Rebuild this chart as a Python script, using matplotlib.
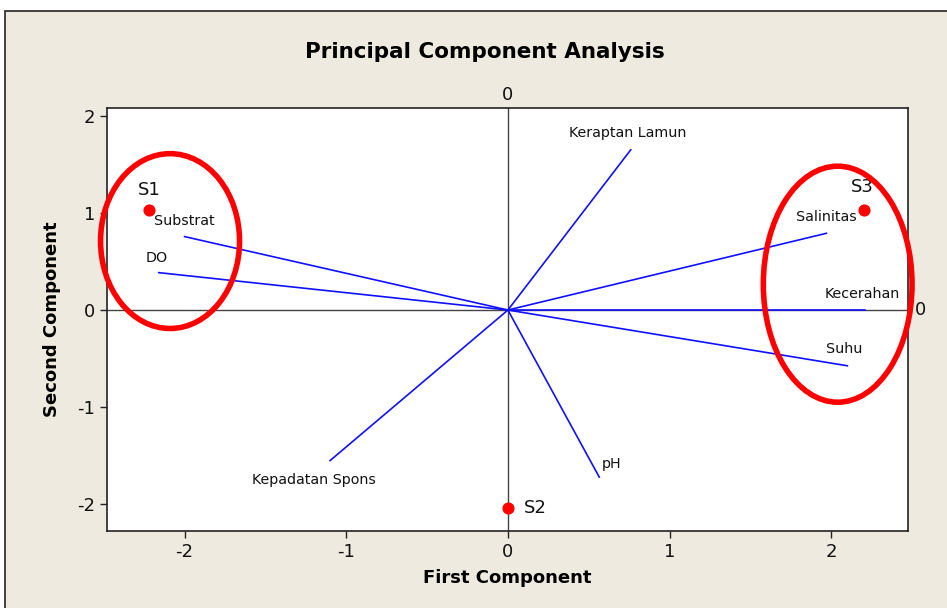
import matplotlib
matplotlib.use("Agg")
import matplotlib.pyplot as plt
from matplotlib.patches import Ellipse, Rectangle

# ------------ Data ------------
variables = ["Keraptan Lamun", "Salinitas", "Kecerahan", "Suhu", "pH",
             "Kepadatan Spons", "Substrat", "DO"]
load_x = [0.76, 1.97, 2.21, 2.10, 0.565, -1.10, -2.00, -2.16]
load_y = [1.65, 0.79, 0.00, -0.574, -1.72, -1.55, 0.756, 0.385]
label_x = [0.38, 1.78, 1.96, 1.97, 0.58, -1.58, -2.19, -2.24]
label_y = [1.82, 0.955, 0.165, -0.405, -1.59, -1.75, 0.92, 0.54]

stations = ["S1", "S2", "S3"]
score_x = [-2.22, 0.0, 2.20]
score_y = [1.03, -2.04, 1.03]
station_lx = [-2.29, 0.10, 2.12]
station_ly = [1.24, -2.04, 1.27]

# ------------ Styles ------------
BG = "#eeeae0"
W, H = 947, 608
plt.rcParams["axes.unicode_minus"] = False

fig = plt.figure(figsize=(W / 100, H / 100), dpi=100)
fig.patch.set_facecolor("white")
fig.patches.append(Rectangle((5 / W, -0.02), 1.02, (H - 11) / H + 0.02,
                             transform=fig.transFigure, facecolor=BG,
                             edgecolor="#222222", linewidth=1.2, zorder=-10))

ax = fig.add_axes([107 / W, 1 - 531 / H, (908 - 107) / W, (531 - 108) / H])
ax.set_zorder(1)
ax.set_facecolor("white")
ax.set_xlim(-2.48, 2.475)
ax.set_ylim(-2.275, 2.08)

# reference lines
ax.axvline(0, color="#444444", linewidth=1.0, zorder=1)
ax.axhline(0, color="#444444", linewidth=1.0, zorder=1)

# loading vectors
for name, x, y, lx, ly in zip(variables, load_x, load_y, label_x, label_y):
    ax.plot([0, x], [0, y], color="#1010ff", linewidth=1.2, zorder=2)
    ax.text(lx, ly, name, fontsize=10.3, ha="left", va="center", color="#111111")

# scores
ax.scatter(score_x, score_y, s=60, color="#ff0000", zorder=4, clip_on=False)
for name, lx, ly in zip(stations, station_lx, station_ly):
    ax.text(lx, ly, name, fontsize=13, ha="left", va="center", color="#111111")

# highlight ellipses
ax.add_patch(Ellipse((-2.09, 0.71), 0.86, 1.80, fill=False, edgecolor="#ff0000",
                     linewidth=4, clip_on=False, zorder=5))
ax.add_patch(Ellipse((2.04, 0.266), 0.92, 2.43, fill=False, edgecolor="#ff0000",
                     linewidth=4, clip_on=False, zorder=5))

# axes styling
for side in ["top", "right", "left", "bottom"]:
    ax.spines[side].set_color("#222222")
    ax.spines[side].set_linewidth(1.2)
ax.set_xticks([-2, -1, 0, 1, 2])
ax.set_yticks([-2, -1, 0, 1, 2])
ax.tick_params(axis="both", direction="out", length=5, width=1, labelsize=13,
               color="#222222", labelcolor="#111111")

ax.text(0, 1.01, "0", transform=ax.get_xaxis_transform(), ha="center",
        va="bottom", fontsize=13, color="#111111")
ax.text(1.008, 0, "0", transform=ax.get_yaxis_transform(), ha="left",
        va="center", fontsize=13, color="#111111")

ax.set_xlabel("First Component", fontsize=13, fontweight="bold", labelpad=6)
ax.set_ylabel("Second Component", fontsize=13, fontweight="bold", labelpad=11.5)
fig.text(485 / W, 1 - 52 / H, "Principal Component Analysis", ha="center",
         va="center", fontsize=15.5, fontweight="bold")

fig.savefig("out.png", dpi=100)
